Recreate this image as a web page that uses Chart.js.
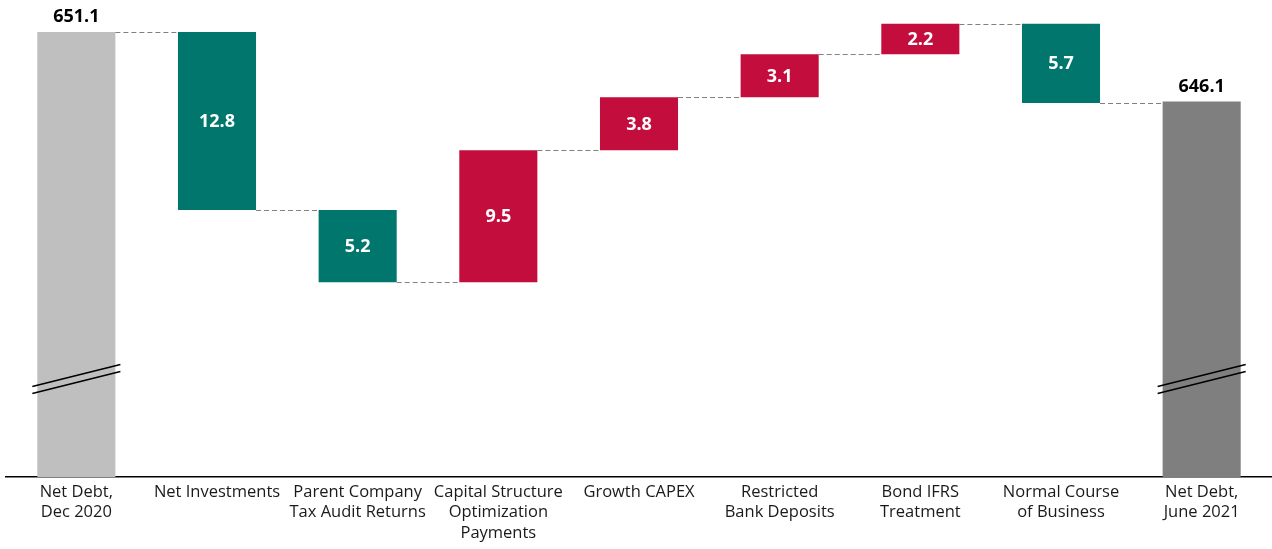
<!DOCTYPE html>
<html>
<head>
<meta charset="utf-8">
<script src="https://cdn.jsdelivr.net/npm/chart.js@4.4.6/dist/chart.umd.min.js"></script>
<style>
  html, body { margin: 0; padding: 0; background: #fff; }
  #wrap { width: 1272px; height: 549px; position: relative; }
</style>
</head>
<body>
<div id="wrap"><canvas id="cascada"></canvas></div>
<script>
const categorias = [
    ['Net Debt,', 'Dec 2020'],
    'Net Investments',
    ['Parent Company', 'Tax Audit Returns'],
    ['Capital Structure', 'Optimization', 'Payments'],
    'Growth CAPEX',
    ['Restricted', 'Bank Deposits'],
    ['Bond IFRS', 'Treatment'],
    ['Normal Course', 'of Business'],
    ['Net Debt,', 'June 2021']
];
const deudaInicial = 651.1;
const deudaFinal = 646.1;
const cambios = [-12.8, -5.2, 9.5, 3.8, 3.1, 2.2, -5.7];
// eje cortado: piso y techo de la escala
const ejeMin = 619.1;
const ejeMax = 653.4;
const valorCorte = 626.4;

const colorInicial = '#bfbfbf';
const colorFinal = '#7f7f7f';
const colorBaja = '#00766c';
const colorSube = '#c20d3d';

// construir barras flotantes
const barras = [[ejeMin, deudaInicial]];
const colores = [colorInicial];
const etiquetas = [deudaInicial.toFixed(1)];
const niveles = [deudaInicial];
let acumulado = deudaInicial;
cambios.forEach(c => {
    const siguiente = acumulado + c;
    barras.push([acumulado, siguiente]);
    colores.push(c < 0 ? colorBaja : colorSube);
    etiquetas.push(Math.abs(c).toFixed(1));
    acumulado = siguiente;
    niveles.push(acumulado);
});
barras.push([ejeMin, deudaFinal]);
colores.push(colorFinal);
etiquetas.push(deudaFinal.toFixed(1));

const pluginCascada = {
    id: 'cascada',
    afterDatasetsDraw(chart) {
        const ctx = chart.ctx;
        const meta = chart.getDatasetMeta(0);
        const y = chart.scales.y;

        // conectores punteados
        ctx.save();
        ctx.strokeStyle = '#808080';
        ctx.lineWidth = 1;
        ctx.setLineDash([5, 3]);
        for (let i = 0; i < meta.data.length - 1; i++) {
            const a = meta.data[i];
            const b = meta.data[i + 1];
            const py = Math.round(y.getPixelForValue(niveles[i])) + 0.5;
            ctx.beginPath();
            ctx.moveTo(a.x + a.width / 2, py);
            ctx.lineTo(b.x - b.width / 2, py);
            ctx.stroke();
        }
        ctx.restore();

        // etiquetas de valores
        ctx.save();
        ctx.textAlign = 'center';
        ctx.textBaseline = 'middle';
        ctx.font = 'bold 18px "Open Sans"';
        meta.data.forEach((bar, i) => {
            if (i === 0 || i === meta.data.length - 1) {
                ctx.fillStyle = '#000';
                ctx.fillText(etiquetas[i], bar.x, bar.y - 15);
            } else {
                ctx.fillStyle = '#fff';
                ctx.fillText(etiquetas[i], bar.x, (bar.y + bar.base) / 2 + 1);
            }
        });
        ctx.restore();

        // marcas de corte del eje
        ctx.save();
        ctx.strokeStyle = '#000';
        ctx.lineWidth = 1.5;
        const yc = y.getPixelForValue(valorCorte);
        [0, meta.data.length - 1].forEach(i => {
            const bar = meta.data[i];
            const half = bar.width / 2 + 5;
            [0, 7].forEach(d => {
                ctx.beginPath();
                ctx.moveTo(bar.x - half, yc + d + 11);
                ctx.lineTo(bar.x + half, yc + d - 11);
                ctx.stroke();
            });
        });
        ctx.restore();
    }
};

new Chart(document.getElementById('cascada'), {
    type: 'bar',
    data: {
        labels: categorias,
        datasets: [{
            data: barras,
            backgroundColor: colores,
            borderWidth: 0,
            barPercentage: 0.555,
            categoryPercentage: 1
        }]
    },
    options: {
        responsive: true,
        maintainAspectRatio: false,
        animation: false,
        layout: { padding: { left: 6, right: 0, top: 0, bottom: 0 } },
        plugins: {
            legend: { display: false },
            tooltip: { enabled: false }
        },
        scales: {
            y: {
                display: false,
                min: ejeMin,
                max: ejeMax
            },
            x: {
                grid: { display: false, drawTicks: false },
                border: { display: true, color: '#000', width: 1.5 },
                ticks: {
                    color: '#1a1a1a',
                    padding: 5,
                    maxRotation: 0,
                    autoSkip: false,
                    font: { family: '"Open Sans"', size: 16.5, lineHeight: 1.24 }
                },
                afterFit(axis) { axis.height = 72; }
            }
        }
    },
    plugins: [pluginCascada]
});
</script>
</body>
</html>
